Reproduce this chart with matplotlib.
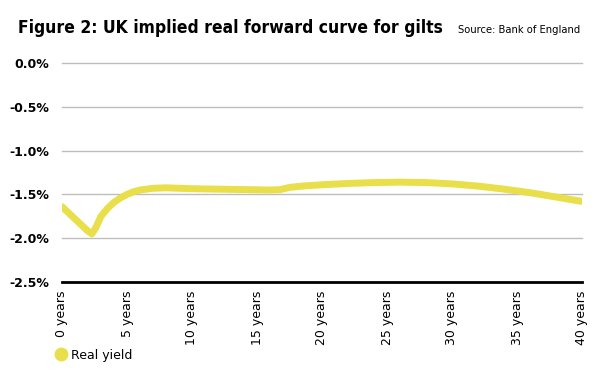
import matplotlib
matplotlib.use('Agg')
import matplotlib.pyplot as plt
from matplotlib.lines import Line2D

# data
years = [0, 0.5, 1, 1.5, 2, 2.3, 2.6, 3, 3.5, 4, 4.5, 5, 5.5, 6, 7, 8, 9, 10, 12,
         14, 16, 16.8, 17.5, 18.5, 20, 22, 24, 26, 28, 30, 32, 34, 36, 38, 40]
real_yield = [-1.64, -1.71, -1.78, -1.85, -1.92, -1.95, -1.88, -1.75, -1.66, -1.59,
              -1.54, -1.50, -1.47, -1.45, -1.43, -1.425, -1.43, -1.435, -1.44,
              -1.445, -1.45, -1.445, -1.42, -1.405, -1.39, -1.375, -1.365, -1.36,
              -1.365, -1.38, -1.405, -1.44, -1.48, -1.53, -1.58]
xticks = list(range(0, 41, 5))
xlabels = ['%d years' % t for t in xticks]
yticks = [0.0, -0.5, -1.0, -1.5, -2.0, -2.5]
ylabels = ['%.1f%%' % t for t in yticks]

YELLOW = '#e8df4a'
GRID = '#bdbdbd'

fig = plt.figure(figsize=(6.15, 3.81), dpi=100)
ax = fig.add_axes([62/615, 1-282/381, 520/615, 219/381])

ax.plot(years, real_yield, color=YELLOW, lw=5, solid_capstyle='round',
        solid_joinstyle='round', zorder=3)

ax.set_xlim(0, 40)
ax.set_ylim(-2.5, 0)
for s in ax.spines.values():
    s.set_visible(False)
for t in yticks[:-1]:
    ax.axhline(t, color=GRID, lw=1, zorder=1, clip_on=False)
ax.axhline(-2.5, color='black', lw=2, zorder=2, clip_on=False)

ax.set_yticks(yticks)
ax.set_yticklabels(ylabels, fontweight='bold', fontsize=9)
ax.set_xticks(xticks)
ax.set_xticklabels(xlabels, rotation=90, fontsize=9)
ax.tick_params(length=0, pad=9)
ax.tick_params(axis='x', pad=6)

fig.text(18/615, 1-33/381, 'Figure 2: UK implied real forward curve for gilts',
         fontsize=12.5, fontweight='bold', fontstretch='condensed',
         family='DejaVu Sans', ha='left', va='baseline')
fig.text(580/615, 1-33/381, 'Source: Bank of England', fontsize=8,
         fontstretch='condensed', family='DejaVu Sans', ha='right', va='baseline')

handle = Line2D([], [], marker='o', color='none', markerfacecolor=YELLOW,
                markeredgecolor=YELLOW, markersize=9)
fig.legend([handle], ['Real yield'], loc='center left',
           bbox_to_anchor=(42/615, 1-355/381), frameon=False, fontsize=9,
           handletextpad=0.2, handlelength=1.2)

fig.savefig('out.png', dpi=100)
